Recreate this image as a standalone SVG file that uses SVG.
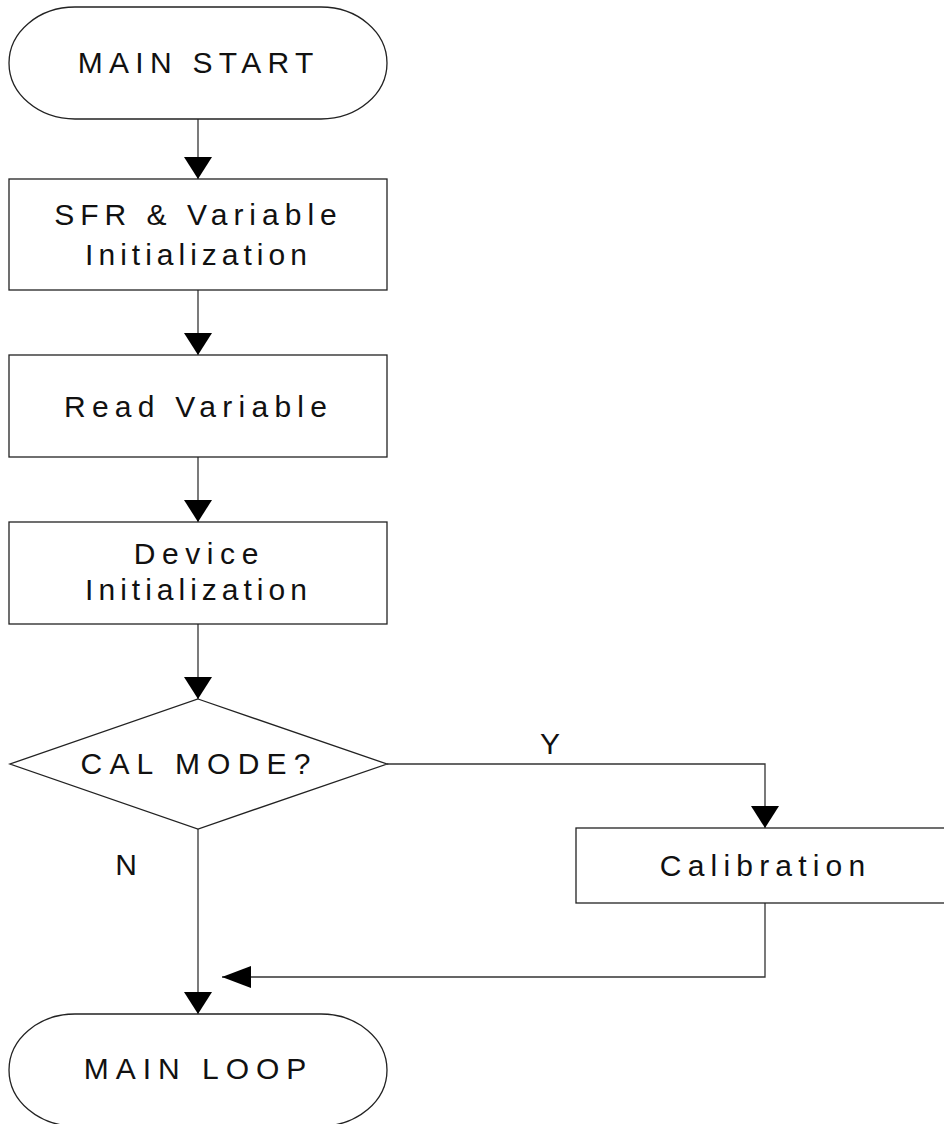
<svg xmlns="http://www.w3.org/2000/svg" width="944" height="1124" viewBox="0 0 944 1124">
  <style>
    .shape { fill: #ffffff; stroke: #222222; stroke-width: 1.3; }
    .conn { fill: none; stroke: #333333; stroke-width: 1.3; }
    .lbl { font-family: "Liberation Sans", Arial, sans-serif; font-size: 30px; fill: #111111; text-anchor: middle; }
  </style>
  <defs>
    <marker id="arrV" viewBox="0 0 22 28" refX="22" refY="14" markerWidth="22" markerHeight="28" markerUnits="userSpaceOnUse" orient="auto">
      <path d="M0,0 L22,14 L0,28 Z" fill="#000000"/>
    </marker>
    <marker id="arrH" viewBox="0 0 29 22" refX="29" refY="11" markerWidth="29" markerHeight="22" markerUnits="userSpaceOnUse" orient="auto">
      <path d="M0,0 L29,11 L0,22 Z" fill="#000000"/>
    </marker>
  </defs>
  <rect width="944" height="1124" fill="#ffffff"/>

  <g id="connectors">
    <path class="conn" d="M198,119 L198,179" marker-end="url(#arrV)"/>
    <path class="conn" d="M198,290 L198,355" marker-end="url(#arrV)"/>
    <path class="conn" d="M198,457 L198,522" marker-end="url(#arrV)"/>
    <path class="conn" d="M198,624 L198,699" marker-end="url(#arrV)"/>
    <path class="conn" d="M387,764 L765,764 L765,828" marker-end="url(#arrV)"/>
    <path class="conn" d="M198,829 L198,1014" marker-end="url(#arrV)"/>
    <path class="conn" d="M765,903 L765,977 L222,977" marker-end="url(#arrH)"/>
    <text class="lbl" x="550" y="754">Y</text>
    <text class="lbl" x="126" y="875">N</text>
  </g>

  <g id="main-start">
    <rect class="shape" x="9" y="7" width="378" height="112" rx="66" ry="56"/>
    <text class="lbl" x="198.6" y="73" letter-spacing="6.3">MAIN START</text>
  </g>

  <g id="sfr-init">
    <rect class="shape" x="9" y="179" width="378" height="111"/>
    <text class="lbl" x="198.5" y="225" letter-spacing="6">SFR &amp; Variable</text>
    <text class="lbl" x="198.5" y="265" letter-spacing="5">Initialization</text>
  </g>

  <g id="read-variable">
    <rect class="shape" x="9" y="355" width="378" height="102"/>
    <text class="lbl" x="198.6" y="417" letter-spacing="6.25">Read Variable</text>
  </g>

  <g id="device-init">
    <rect class="shape" x="9" y="522" width="378" height="102"/>
    <text class="lbl" x="199.3" y="564" letter-spacing="6.6">Device</text>
    <text class="lbl" x="198.5" y="600" letter-spacing="5">Initialization</text>
  </g>

  <g id="cal-mode">
    <polygon class="shape" points="198,699 387,764 198,829 10,764"/>
    <text class="lbl" x="199.1" y="774" letter-spacing="7.2">CAL MODE?</text>
  </g>

  <g id="calibration">
    <rect class="shape" x="576" y="828" width="378" height="75"/>
    <text class="lbl" x="765.6" y="876" letter-spacing="6.2">Calibration</text>
  </g>

  <g id="main-loop">
    <rect class="shape" x="9" y="1014" width="378" height="112" rx="66" ry="56"/>
    <text class="lbl" x="198.5" y="1079" letter-spacing="7">MAIN LOOP</text>
  </g>
</svg>
